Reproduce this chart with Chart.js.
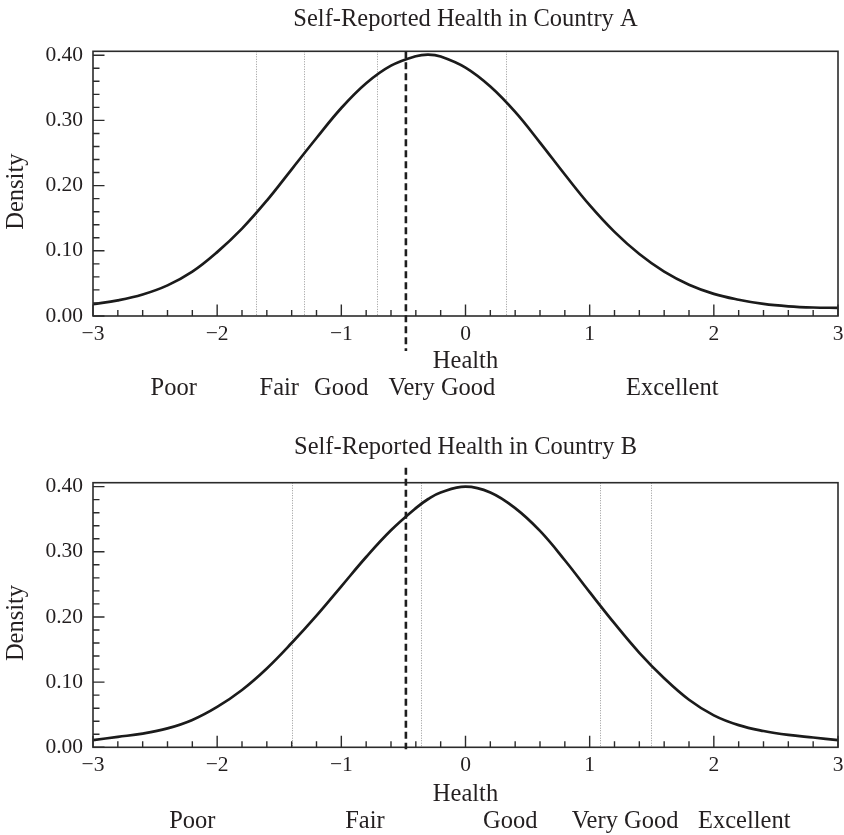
<!DOCTYPE html>
<html><head><meta charset="utf-8">
<script src="https://cdn.jsdelivr.net/npm/chart.js@4.4.1/dist/chart.umd.min.js"></script>
<style>
html,body{margin:0;padding:0;background:#fff;}
#wrap{position:relative;width:844px;height:835px;overflow:hidden;}
canvas{position:absolute;left:0;}
</style></head><body>
<div id="wrap">
<canvas id="cA" width="844" height="420" style="top:0;width:844px;height:420px"></canvas>
<canvas id="cB" width="844" height="415" style="top:420px;width:844px;height:415px"></canvas>
</div>
<script>
// ---------- data ----------
const healthX = [-3.0,-2.8,-2.6,-2.4,-2.2,-2.0,-1.8,-1.6,-1.4,-1.2,-1.0,-0.8,-0.6,-0.4,-0.3,-0.2,0.0,0.2,0.4,0.6,0.8,1.0,1.2,1.4,1.6,1.8,2.0,2.2,2.4,2.6,2.8,3.0];
const densityA = [0.018,0.024,0.033,0.047,0.068,0.098,0.134,0.177,0.225,0.273,0.319,0.357,0.384,0.3985,0.401,0.398,0.381,0.352,0.313,0.266,0.217,0.170,0.129,0.095,0.068,0.048,0.034,0.025,0.0185,0.0148,0.013,0.0125];
const densityB = [0.011,0.016,0.021,0.029,0.042,0.062,0.088,0.121,0.160,0.202,0.247,0.292,0.333,0.367,0.381,0.391,0.400,0.391,0.367,0.332,0.287,0.238,0.190,0.145,0.106,0.073,0.049,0.034,0.025,0.019,0.015,0.011];
const xTickValues = [-3,-2,-1,0,1,2,3];
const yTickValues = [0.00,0.10,0.20,0.30,0.40];
const cutpointsA = [-1.69,-1.30,-0.71,0.33];
const cutpointsB = [-1.40,-0.36,1.086,1.49];
const selfLevel = -0.48;
const categories = ['Poor','Fair','Good','Very Good','Excellent'];
const categoryPosA = [-2.35,-1.50,-1.00,-0.19,1.665];
const categoryPosB = [-2.20,-0.81,0.36,1.285,2.245];
const titleA = 'Self-Reported Health in Country A';
const titleB = 'Self-Reported Health in Country B';
const xTitle = 'Health';
const yTitle = 'Density';

// ---------- styling ----------
const FONT = "'Liberation Serif','DejaVu Serif',serif";
const TXT = '#231f20';
const wordFont = {family: FONT, size: 24.5, weight: 'normal'};
const digitFont = {family: FONT, size: 21.5, weight: 'normal'};

function fmtX(v){ return v < 0 ? '\u2212' + Math.abs(v) : String(v); }

function decor(o){
  return {
    id: 'decor',
    beforeDatasetsDraw(chart){
      const {ctx, chartArea: a, scales: {x}} = chart;
      ctx.save();
      ctx.strokeStyle = '#999999'; ctx.lineWidth = 1; ctx.setLineDash([1,1.5]);
      o.cuts.forEach(c => {
        const px = Math.round(x.getPixelForValue(c)) + 0.5;
        ctx.beginPath(); ctx.moveTo(px, a.top); ctx.lineTo(px, a.bottom); ctx.stroke();
      });
      ctx.restore();
    },
    afterDatasetsDraw(chart){
      const {ctx, chartArea: a, scales: {x, y}} = chart;
      ctx.save();
      // frame
      ctx.strokeStyle = '#2b2b2b'; ctx.lineWidth = 1.6; ctx.setLineDash([]);
      ctx.strokeRect(a.left, a.top, a.right - a.left, a.bottom - a.top);
      // inward ticks
      ctx.lineWidth = 1.4;
      ctx.beginPath();
      for (let i = 0; i <= 30; i++) {
        const v = -3 + i * 0.2;
        const px = x.getPixelForValue(v);
        const len = (i % 5 === 0) ? 11.5 : 6;
        ctx.moveTo(px, a.bottom); ctx.lineTo(px, a.bottom - len);
      }
      for (let j = 0; j <= 20; j++) {
        const v = j * 0.02;
        const py = y.getPixelForValue(v);
        const len = (j % 5 === 0) ? 11.5 : 6.5;
        ctx.moveTo(a.left, py); ctx.lineTo(a.left + len, py);
      }
      ctx.stroke();
      // dashed individual level
      const dx = x.getPixelForValue(selfLevel);
      ctx.strokeStyle = '#1e1e1e'; ctx.lineWidth = 2.6; ctx.setLineDash([7,4]);
      ctx.beginPath(); ctx.moveTo(dx, a.top + o.dashTop); ctx.lineTo(dx, a.bottom + o.dashBottom); ctx.stroke();
      ctx.setLineDash([]);
      // category labels
      ctx.fillStyle = TXT; ctx.font = wordFont.size + 'px ' + FONT; ctx.textAlign = 'center'; ctx.textBaseline = 'middle';
      categories.forEach((c, i) => ctx.fillText(c, x.getPixelForValue(o.catPos[i]), a.bottom + o.catOffset));
      // y axis title
      ctx.save();
      ctx.translate(17, (a.top + a.bottom) / 2 + 8);
      ctx.rotate(-Math.PI / 2);
      ctx.fillText(yTitle, 0, 0);
      ctx.restore();
      ctx.restore();
    }
  };
}

function makeChart(id, values, title, o){
  return new Chart(document.getElementById(id), {
    type: 'line',
    data: { datasets: [{
      data: healthX.map((h, i) => ({x: h, y: values[i]})),
      borderColor: '#1b1b1b', borderWidth: 2.7, pointRadius: 0,
      tension: 0.4, fill: false
    }]},
    options: {
      responsive: false, animation: false, devicePixelRatio: 1,
      layout: { padding: {left: 0, right: 6, top: 0, bottom: 0} },
      plugins: {
        legend: {display: false}, tooltip: {enabled: false},
        title: { display: true, fullSize: false, text: title, font: wordFont, color: TXT,
                 padding: {top: o.titleTop, bottom: o.titleBottom} }
      },
      scales: {
        x: {
          type: 'linear', min: -3, max: 3,
          grid: {display: false, drawTicks: false}, border: {display: false},
          afterBuildTicks: s => { s.ticks = xTickValues.map(v => ({value: v})); },
          ticks: { callback: v => fmtX(v), font: digitFont, color: TXT, padding: 5.5, maxRotation: 0, autoSkip: false },
          title: { display: true, text: xTitle, font: wordFont, color: TXT, padding: {top: 0, bottom: o.healthPad} },
          afterFit: s => { s.height = o.xHeight; s.paddingLeft = 0; s.paddingRight = 0; }
        },
        y: {
          type: 'linear', min: 0, max: 0.406,
          grid: {display: false, drawTicks: false}, border: {display: false},
          afterBuildTicks: s => { s.ticks = yTickValues.map(v => ({value: v})); },
          ticks: { callback: v => Number(v).toFixed(2), font: digitFont, color: TXT, padding: 10, autoSkip: false },
          afterFit: s => { s.width = 93; }
        }
      }
    },
    plugins: [decor(o)]
  });
}

makeChart('cA', densityA, titleA, {
  titleTop: 5.3, titleBottom: 16.6, xHeight: 104, healthPad: 43.6,
  cuts: cutpointsA, catPos: categoryPosA, catOffset: 72.7, dashTop: 0, dashBottom: 35
});
makeChart('cB', densityB, titleB, {
  titleTop: 13.3, titleBottom: 20, xHeight: 87.7, healthPad: 25.3,
  cuts: cutpointsB, catPos: categoryPosB, catOffset: 74.4, dashTop: -15, dashBottom: 2
});
</script>
</body></html>
